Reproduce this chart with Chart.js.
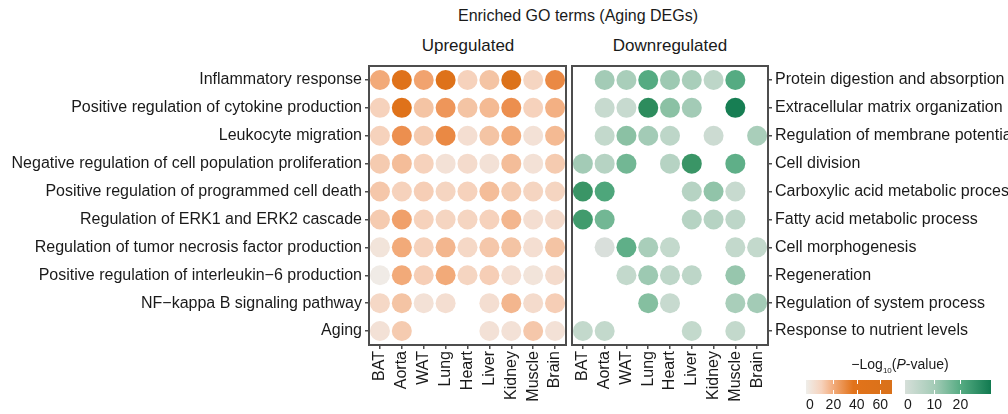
<!DOCTYPE html>
<html>
<head>
<meta charset="utf-8">
<script src="https://cdn.jsdelivr.net/npm/chart.js@4.4.0/dist/chart.umd.min.js"></script>
<style>
  body { margin: 0; background: #fff; font-family: 'Liberation Sans', Arial, sans-serif; color: #1a1a1a; }
  #wrap { position: relative; width: 1008px; height: 414px; overflow: hidden; }
  .box { position: absolute; top: 0; height: 414px; }
  .txt { position: absolute; white-space: nowrap; transform: translateX(-50%); }
  .bar { position: absolute; top: 380px; height: 14px; }
  .tk { position: absolute; width: 1px; background: #fff; }
  .lab { position: absolute; top: 396px; font-size: 14px; transform: translateX(-50%); }
</style>
</head>
<body>
<div id="wrap">
  <div class="txt" style="left:578px; top:7px; font-size:16px;">Enriched GO terms (Aging DEGs)</div>
  <div class="txt" style="left:468px; top:36px; font-size:17px;">Upregulated</div>
  <div class="txt" style="left:670px; top:36px; font-size:17px;">Downregulated</div>

  <div class="box" style="left:0; width:567px;"><canvas id="upChart"></canvas></div>
  <div class="box" style="left:567px; width:441px;"><canvas id="downChart"></canvas></div>

  <div class="txt" style="left:900px; top:356px; font-size:14px;">&minus;Log<sub style="font-size:8px">10</sub>(<i>P</i>-value)</div>
  <div id="legendUp" class="bar" style="left:806px; width:86px; background:linear-gradient(to right,#efeeea,#f6d2bc 18%,#f3b083 30%,#e2731a 55%,#d9711a 100%);"></div>
  <div id="legendDown" class="bar" style="left:905px; width:86px; background:linear-gradient(to right,#d6dfd9,#a3cbb6 35%,#55ab82 65%,#117a50 100%);"></div>
</div>
<script>
// tissues (columns), same for both panels
const tissues = ['BAT', 'Aorta', 'WAT', 'Lung', 'Heart', 'Liver', 'Kidney', 'Muscle', 'Brain'];

const upTerms = [
    'Inflammatory response',
    'Positive regulation of cytokine production',
    'Leukocyte migration',
    'Negative regulation of cell population proliferation',
    'Positive regulation of programmed cell death',
    'Regulation of ERK1 and ERK2 cascade',
    'Regulation of tumor necrosis factor production',
    'Positive regulation of interleukin\u22126 production',
    'NF\u2212kappa B signaling pathway',
    'Aging'
];

const downTerms = [
    'Protein digestion and absorption',
    'Extracellular matrix organization',
    'Regulation of membrane potential',
    'Cell division',
    'Carboxylic acid metabolic process',
    'Fatty acid metabolic process',
    'Cell morphogenesis',
    'Regeneration',
    'Regulation of system process',
    'Response to nutrient levels'
];

// -log10(P) per term (rows) x tissue (cols); null = not enriched
const upValues = [
    [22, 50, 24, 55, 10, 14, 60, 9, 32],
    [10, 50, 14, 28, 14, 17, 30, 10, 20],
    [10, 30, 12, 32, 6, 14, 22, 5, 17],
    [12, 16, 10, 5, 7, 5, 16, 5, 12],
    [13, 10, 11, 9, 10, 16, 12, 9, 9],
    [12, 25, 10, 9, 9, 10, 18, 6, 7],
    [4, 22, 10, 18, 8, 13, 14, 6, 14],
    [1, 22, 11, 22, 9, 11, 6, 4, 7],
    [8, 14, 5, 6, null, 6, 18, 7, 11],
    [5, 12, null, null, null, 5, 5, 13, 5]
];

const downValues = [
    [null, 10, 9, 20, 11, 9, 6, 20, null],
    [null, 4, 4, 26, 14, 10, null, 30, null],
    [null, 5, 14, 10, 6, null, 3, null, 9],
    [10, 7, 17, null, 7, 24, null, 19, null],
    [24, 21, null, null, null, 7, 13, 4, null],
    [23, 17, null, null, null, 7, 7, 6, null],
    [null, 0, 19, 9, 5, null, null, 5, 5],
    [null, null, 5, 11, 6, 6, null, 12, null],
    [null, null, null, 15, 4, null, null, 9, 10],
    [5, 5, null, null, null, 5, null, 5, null]
];

// colour stops for the two scales
const upStops = [[0, '#efeeea'], [5, '#f3e1d6'], [10, '#f6d2bc'], [15, '#f4c09e'], [20, '#f3b083'],
                 [25, '#f0a06a'], [30, '#ec8f4f'], [40, '#e2731a'], [70, '#d9711a']];
const downStops = [[0, '#d9dfdb'], [5, '#c3d9cc'], [10, '#a3cbb6'], [15, '#85bfa0'], [20, '#55ab82'],
                   [25, '#33905f'], [31, '#117a50']];

function hex(c) {
    return [1, 3, 5].map(i => parseInt(c.slice(i, i + 2), 16));
}

function scaleColor(stops, v) {
    if (v <= stops[0][0]) return stops[0][1];
    for (let i = 1; i < stops.length; i++) {
        if (v <= stops[i][0]) {
            const [v0, c0] = stops[i - 1];
            const [v1, c1] = stops[i];
            const t = (v - v0) / (v1 - v0);
            const a = hex(c0), b = hex(c1);
            const m = a.map((x, k) => Math.round(x + (b[k] - x) * t));
            return 'rgb(' + m.join(',') + ')';
        }
    }
    return stops[stops.length - 1][1];
}

const font = { family: "'Liberation Sans', Arial, sans-serif", size: 16 };
const axisColor = '#4d4d4d';
const noPadding = () => ({ left: 0, right: 0, top: 0, bottom: 0 });

// frame around the plot area
const framePlugin = {
    id: 'frame',
    afterDraw(chart) {
        const a = chart.chartArea;
        const c = chart.ctx;
        c.save();
        c.strokeStyle = axisColor;
        c.lineWidth = 2;
        c.strokeRect(a.left, a.top, a.right - a.left, a.bottom - a.top);
        c.restore();
    }
};

function makeChart(id, terms, values, stops, side, padding, yWidth) {
    const points = [];
    const colors = [];
    values.forEach((row, i) => {
        row.forEach((v, j) => {
            if (v === null) return;
            points.push({ x: j, y: i });
            colors.push(scaleColor(stops, v));
        });
    });

    return new Chart(document.getElementById(id), {
        type: 'scatter',
        data: {
            datasets: [{
                data: points,
                backgroundColor: colors,
                borderWidth: 0,
                pointRadius: 10,
                pointHoverRadius: 10,
                clip: false
            }]
        },
        options: {
            responsive: true,
            maintainAspectRatio: false,
            animation: false,
            layout: { padding: padding, autoPadding: false },
            plugins: { legend: { display: false }, tooltip: { enabled: false } },
            scales: {
                x: {
                    type: 'linear',
                    min: -0.5,
                    max: 8.5,
                    afterBuildTicks: s => { s.ticks = tissues.map((t, i) => ({ value: i })); },
                    afterFit: s => {
                        s.height = 69;
                        s.paddingLeft = 0;
                        s.paddingRight = 0;
                        s.getPadding = noPadding;
                    },
                    border: { display: false },
                    grid: { drawOnChartArea: false, drawTicks: true, tickLength: 4, color: axisColor, lineWidth: 1.5 },
                    ticks: {
                        autoSkip: false,
                        minRotation: 90,
                        maxRotation: 90,
                        padding: 2,
                        color: '#1a1a1a',
                        font: font,
                        callback: v => tissues[v]
                    }
                },
                y: {
                    type: 'linear',
                    position: side,
                    reverse: true,
                    min: -0.5,
                    max: 9.5,
                    afterBuildTicks: s => { s.ticks = terms.map((t, i) => ({ value: i })); },
                    afterFit: s => {
                        s.width = yWidth;
                        s.paddingTop = 0;
                        s.paddingBottom = 0;
                        s.getPadding = noPadding;
                    },
                    border: { display: false },
                    grid: { drawOnChartArea: false, drawTicks: true, tickLength: 4, color: axisColor, lineWidth: 1.5 },
                    ticks: {
                        autoSkip: false,
                        padding: 3,
                        color: '#1a1a1a',
                        font: font,
                        callback: v => terms[v]
                    }
                }
            }
        },
        plugins: [framePlugin]
    });
}

makeChart('upChart', upTerms, upValues, upStops, 'left', { top: 66, right: 1, left: 0, bottom: 0 }, 369);
makeChart('downChart', downTerms, downValues, downStops, 'right', { top: 66, left: 5, right: 0, bottom: 0 }, 240);

// colour bar ticks and labels
function addBarTicks(zeroX, perUnit, ticks) {
    const wrap = document.getElementById('wrap');
    ticks.forEach(t => {
        const x = zeroX + t * perUnit;
        if (t > 0) {
            ['380px', '390px'].forEach(top => {
                const d = document.createElement('div');
                d.className = 'tk';
                d.style.left = x + 'px';
                d.style.top = top;
                d.style.height = '4px';
                wrap.appendChild(d);
            });
        }
        const l = document.createElement('div');
        l.className = 'lab';
        l.textContent = t;
        l.style.left = x + 'px';
        wrap.appendChild(l);
    });
}
addBarTicks(810, 1.17, [0, 20, 40, 60]);
addBarTicks(908, 2.62, [0, 10, 20]);
</script>
</body>
</html>
